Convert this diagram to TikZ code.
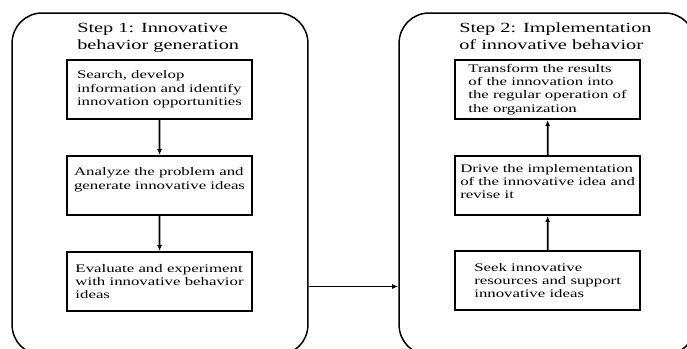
\documentclass[tikz,border=0pt]{standalone}
\usepackage{fontspec}
\setmainfont{Liberation Serif}
\usetikzlibrary{arrows.meta, positioning}

\begin{document}
\begin{tikzpicture}[
  x=0.6897pt, y=-1pt, xscale=1.45, transform shape,
  panel/.style={rectangle, rounded corners=30pt, draw=black, line width=1.5pt,
                minimum width=204pt, minimum height=342pt},
  box/.style={rectangle, draw=black, line width=2pt, minimum width=127.6pt,
              minimum height=59pt, align=left, inner sep=2pt,
              font=\fontsize{11.6}{13.3}\selectfont},
  title/.style={anchor=north west, inner sep=0pt, align=left,
                font=\fontsize{14}{16.7}\selectfont},
  arrow/.style={-{Latex[length=6pt, width=5pt]}, line width=1.8pt}
]
  \useasboundingbox (0,0) rectangle (687,349);
  \clip (0,0) rectangle (687,349);

  % the two steps
  \node[panel] (step1) at (160,184) {};
  \node[panel] (step2) at (547,184) {};
  \node[title] (title1) at (77,23)  {Step 1: Innovative\\behavior generation};
  \node[title] (title2) at (459,23) {Step 2: Implementation\\of innovative behavior};

  % step 1
  \node[box] (search) at (159.5,89.5) {Search, develop\\information and identify\\innovation opportunities};
  \node[box, below=35pt of search, text depth=14pt] (analyze) {Analyze the problem and\\generate innovative ideas};
  \node[box, below=35pt of analyze] (evaluate) {Evaluate and experiment\\with innovative behavior\\ideas};

  % step 2
  \node[box] (transform) at (547.5,89.5) {Transform the results\\of the innovation into\\the regular operation of\\the organization};
  \node[box, below=35pt of transform, text depth=8pt] (drive) {Drive the implementation\\of the innovative idea and\\revise it};
  \node[box, below=34pt of drive] (seek) {Seek innovative\\resources and support\\innovative ideas};

  \draw[arrow] (search)  -- (analyze);
  \draw[arrow] (analyze) -- (evaluate);
  \draw[arrow] (seek)    -- (drive);
  \draw[arrow] (drive)   -- (transform);
  \draw[arrow, line width=1pt] ([yshift=-5pt]step1.east |- evaluate.east) -- ([yshift=-5pt]step2.west |- evaluate.east);
\end{tikzpicture}
\end{document}
